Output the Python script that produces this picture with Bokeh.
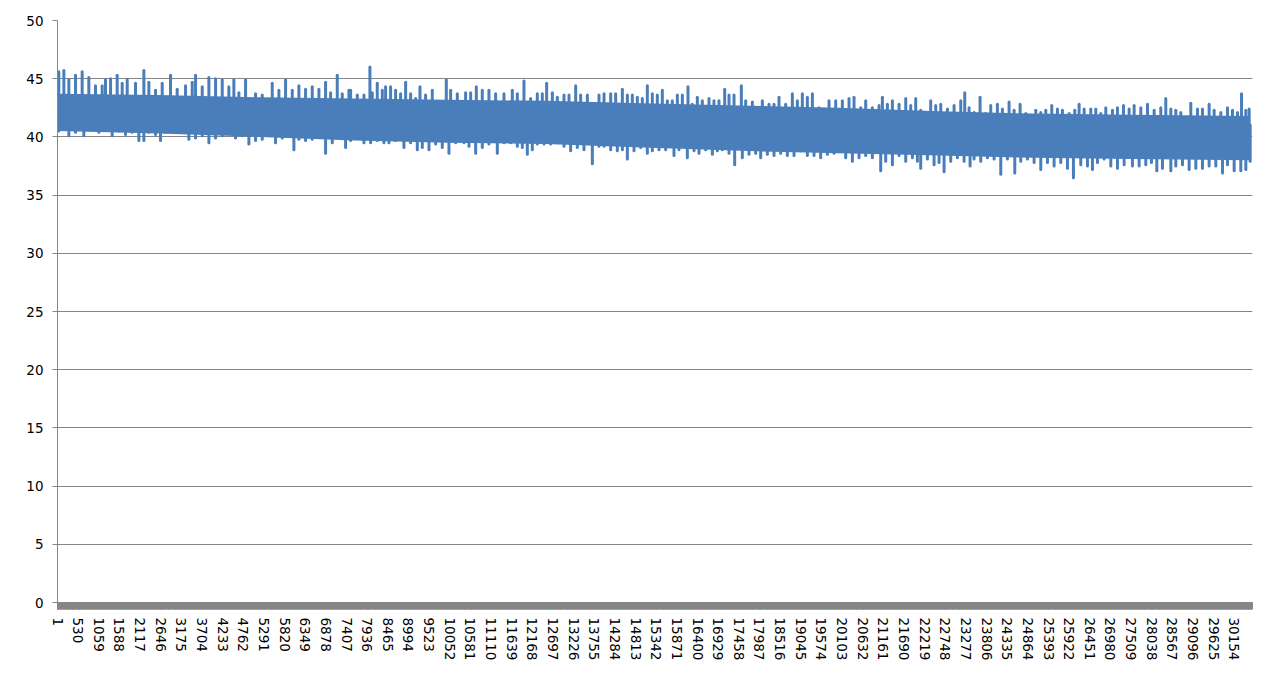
from bokeh.plotting import figure
from bokeh.models import Range1d, FixedTicker
from bokeh.embed import file_html
from bokeh.resources import INLINE

# ---- data ----
tick_labels = ["1", "530", "1059", "1588", "2117", "2646", "3175", "3704", "4233", "4762",
               "5291", "5820", "6349", "6878", "7407", "7936", "8465", "8994", "9523", "10052",
               "10581", "11110", "11639", "12168", "12697", "13226", "13755", "14284", "14813",
               "15342", "15871", "16400", "16929", "17458", "17987", "18516", "19045", "19574",
               "20103", "20632", "21161", "21690", "22219", "22748", "23277", "23806", "24335",
               "24864", "25393", "25922", "26451", "26980", "27509", "28038", "28567", "29096",
               "29625", "30154"]
n_points = 30620

y_ticks = [0, 5, 10, 15, 20, 25, 30, 35, 40, 45, 50]

# local maxima of the series (category index, value)
top_x = [35, 164, 292, 463, 633, 804, 975, 1146, 1231, 1360, 1530, 1659, 1787, 2000, 2214, 2342, 2513,
         2684, 2897, 3068, 3282, 3453, 3538, 3709, 3880, 4051, 4222, 4392, 4520, 4649, 4820, 5076,
         5247, 5503, 5674, 5845, 6016, 6186, 6357, 6528, 6699, 6870, 6998, 7169, 7297, 7468,
         7511, 7682, 7853, 8006, 8066, 8194, 8323, 8408, 8536, 8664, 8792, 8921, 9049, 9177, 9288,
         9433, 9604, 9818, 9963, 10074, 10245, 10458, 10587, 10732, 10885, 11056, 11227, 11441,
         11654, 11783, 11953, 12124, 12295, 12423, 12534, 12680, 12808, 12979, 13107, 13278, 13406,
         13577, 13747, 13876, 14004, 14175, 14303, 14474, 14602, 14730, 14858, 14986, 15114,
         15242, 15370, 15498, 15626, 15754, 15883, 16011, 16156, 16267, 16395, 16523, 16694, 16822,
         16950, 17096, 17207, 17335, 17523, 17634, 17805, 17933, 18061, 18232, 18360, 18488, 18659,
         18830, 18958, 19086, 19214, 19343, 19513, 19641, 19770, 19941, 20111, 20282, 20410, 20581,
         20709, 20880, 21051, 21137, 21265, 21393, 21564, 21735, 21863, 21991, 22119, 22247, 22375,
         22503, 22632,
         22803, 22974, 23145, 23247, 23358, 23486, 23640, 23785, 23913, 24084, 24212, 24383, 24511,
         24665, 24810, 24939, 25067, 25195, 25323, 25477, 25622, 25750, 25921, 26066, 26177, 26306,
         26476, 26604, 26733, 26861, 27032, 27160, 27314, 27459, 27587, 27758, 27929, 28100, 28270,
         28398, 28527, 28655, 28783, 28911, 29039, 29210, 29338, 29509, 29637, 29808, 29979, 30107,
         30236, 30339, 30449, 30534]
top_y = [45.6, 45.7, 44.9, 45.3, 45.6, 45.1, 44.4, 44.4, 44.9, 45.0, 45.3, 44.6, 44.9, 44.6, 45.7, 44.7, 44.0,
         44.6, 45.3, 44.1, 44.4, 44.7, 45.3, 44.3, 45.1, 45.0, 44.9, 44.3, 44.9, 43.8, 44.9, 43.7,
         43.6, 44.6, 44.0, 44.9, 44.0, 44.4, 44.1, 44.3, 44.1, 44.7, 43.8, 45.3, 43.7, 44.0,
         44.0, 43.6, 43.6, 46.0, 43.8, 44.6, 44.0, 44.3, 44.3, 44.0, 43.7, 44.7, 43.7, 43.3, 44.3,
         43.6, 44.0, 43.0, 44.9, 44.0, 43.7, 43.8, 43.8, 44.3, 44.0, 44.0, 43.7, 43.7,
         44.0, 43.7, 44.8, 43.3, 43.7, 43.7, 44.6, 43.8, 43.4, 43.6, 43.6, 44.4, 43.6,
         43.6, 42.5, 43.6, 43.7, 43.7, 43.7, 44.1, 43.6, 43.6, 43.4, 43.3, 44.4,
         43.7, 43.6, 44.0, 43.1, 43.1, 43.6, 43.6, 44.3, 42.8, 43.4, 43.1, 43.3, 43.1,
         43.1, 44.1, 43.6, 43.6, 44.4, 43.1, 43.0, 42.5, 43.1, 42.8, 42.8, 43.4, 42.8,
         43.7, 43.1, 43.7, 43.4, 43.7, 42.5, 42.4, 43.1, 43.1, 43.1, 43.3, 43.4, 42.5,
         43.1, 42.5, 42.7, 43.4, 42.8, 43.1, 42.8, 43.3, 42.7, 43.3, 42.3, 42.1, 43.1,
         42.7, 42.8,
         42.4, 42.7, 43.1, 43.8, 42.5, 42.1, 43.4, 42.0, 42.7, 42.8, 42.4, 43.0, 42.3,
         42.8, 42.0, 41.7, 42.3, 42.1, 42.3, 42.7, 42.4, 42.3, 42.0, 42.3, 42.8, 42.4,
         42.4, 42.4, 42.0, 42.5, 42.3, 42.5, 42.7, 42.4, 42.7, 42.5, 42.8, 42.3, 42.5,
         43.3, 42.4, 42.3, 42.1, 41.7, 42.9, 42.4, 42.4, 42.8, 42.3, 42.1, 42.5, 42.3,
         42.1, 43.7, 42.3, 42.4]

# local minima of the series (category index, value)
low_x = [35, 292, 463, 676, 804, 1061, 1231, 1402, 1573, 1744, 1915, 2086, 2214, 2342, 2513, 2641, 2769,
         2940, 3154, 3367, 3538, 3709, 3880, 4051, 4222, 4392, 4563, 4734, 4905, 5076, 5247, 5418,
         5588, 5759, 5930, 6058, 6186, 6357, 6528, 6699, 6870, 7041, 7212, 7383,
         7511, 7682, 7853, 8024, 8194, 8365, 8493, 8664, 8878, 9049, 9220, 9348, 9519, 9690, 9860,
         10031, 10202, 10416, 10544, 10715, 10885, 11056, 11270, 11441, 11612, 11783, 11911, 12039,
         12167, 12295, 12466, 12637, 12808, 12979, 13149, 13320, 13491, 13705, 13876, 14004, 14175,
         14345, 14474, 14602, 14773, 14943, 15114,
         15242, 15413, 15584, 15797, 15925, 16139, 16310, 16438, 16609, 16780, 16908, 17036, 17207,
         17352, 17548, 17719, 17890, 18018, 18189, 18360, 18531, 18702, 18873, 19044, 19214, 19385,
         19556, 19727, 19898, 20026, 20197, 20368, 20539, 20709, 20880, 21094, 21222, 21393, 21564,
         21735, 21906, 22034, 22119, 22290, 22461, 22589, 22717,
         22888, 23059, 23230, 23384, 23486, 23657, 23828, 23999, 24170, 24341, 24529, 24682, 24853,
         25024, 25195, 25366, 25537, 25707, 25878, 26032, 26220, 26391, 26519, 26647, 26818, 26989,
         27160, 27331, 27544, 27715, 27886, 28031, 28168, 28313, 28527, 28655, 28826, 28997, 29168,
         29338, 29509, 29680, 29851, 29979, 30150, 30321, 30449, 30560]
low_y = [40.5, 40.1, 40.4, 40.1, 40.7, 40.4, 40.7, 40.1, 40.5, 40.2, 40.4, 39.7, 39.7, 40.4, 40.2, 39.7, 40.4,
         40.4, 40.4, 39.8, 39.9, 40.1, 39.5, 39.9, 40.1, 40.4, 39.9, 40.1, 39.4, 39.7, 39.8, 40.1,
         39.5, 39.9, 40.1, 38.9, 39.8, 39.7, 39.8, 40.1, 38.6, 39.5, 40.1, 39.1,
         39.7, 39.9, 39.5, 39.5, 39.7, 39.5, 39.5, 39.7, 39.1, 39.5, 38.9, 39.1, 38.9, 39.4, 39.1,
         38.6, 39.5, 39.5, 39.2, 38.6, 39.1, 39.4, 38.6, 39.5, 39.5, 39.2, 39.1, 38.5,
         38.9, 39.4, 39.4, 39.4, 39.5, 39.2, 38.8, 39.1, 38.9, 37.7, 39.2, 39.2, 38.9,
         38.8, 38.9, 38.1, 38.8, 39.1, 38.6,
         38.8, 38.9, 38.9, 38.4, 38.9, 38.2, 38.8, 38.6, 38.9, 38.5, 38.8, 38.9, 38.6,
         37.6, 38.2, 38.5, 38.6, 38.2, 38.5, 38.4, 38.6, 38.4, 38.4, 38.8, 38.4, 38.4,
         38.2, 38.5, 38.6, 38.8, 38.2, 37.9, 38.2, 38.4, 38.2, 37.1, 37.9, 37.6, 38.4,
         37.9, 38.2, 37.9, 37.3, 38.1, 37.6, 37.8, 37.0,
         37.9, 38.2, 37.9, 37.5, 38.1, 37.9, 38.2, 38.1, 36.8, 38.1, 36.9, 37.9, 38.1,
         37.8, 37.2, 37.8, 37.5, 37.8, 37.3, 36.5, 37.6, 37.5, 37.2, 37.8, 38.1, 37.5,
         37.3, 37.6, 37.5, 37.5, 37.6, 37.8, 37.1, 37.3, 37.1, 37.5, 37.6, 37.2, 37.3,
         37.3, 37.5, 37.5, 36.9, 37.6, 37.1, 37.1, 37.2, 37.9]

# range that the dense trace always covers
band_x = [1, 2600, 5200, 7600, 10000, 12500, 15000, 17500, 20000, 22600, 25000, 27500, 30560]
band_hi = [43.7, 43.6, 43.4, 43.3, 43.2, 43.1, 42.9, 42.7, 42.5, 42.2, 42.0, 41.9, 41.8]
band_lo = [40.5, 40.3, 40.0, 39.7, 39.5, 39.4, 39.1, 38.8, 38.6, 38.4, 38.2, 38.1, 38.0]
series_mid = 41.0

# ---- styling ----
BLUE = "#4a7ebb"
GRAY = "#868686"
FONT = "DejaVu Sans"

tick_pos = [int(s) for s in tick_labels]

p = figure(width=1270, height=675, output_backend="svg", toolbar_location=None,
           x_range=Range1d(1, n_points), y_range=Range1d(0, 50),
           min_border_left=57, min_border_right=18, min_border_top=20, min_border_bottom=73)
p.outline_line_color = None
p.background_fill_color = "white"
p.border_fill_color = "white"

# solid core of the dense trace
p.varea(x=band_x, y1=band_lo, y2=band_hi, fill_color=BLUE, fill_alpha=1.0)
# excursions of the trace above and below the core
p.segment(x0=top_x, y0=[series_mid] * len(top_x), x1=top_x, y1=top_y,
          line_color=BLUE, line_width=3, line_cap="round")
p.segment(x0=low_x, y0=[series_mid] * len(low_x), x1=low_x, y1=low_y,
          line_color=BLUE, line_width=3, line_cap="round")

# x axis (category axis with dense tick marks)
xa = p.xaxis[0]
xa.ticker = FixedTicker(ticks=tick_pos, minor_ticks=list(range(1, n_points, 12)))
xa.major_label_overrides = {t: s for t, s in zip(tick_pos, tick_labels)}
xa.major_label_orientation = "vertical"
xa.axis_line_color = GRAY
xa.major_tick_line_color = GRAY
xa.minor_tick_line_color = GRAY
xa.major_tick_in = 0
xa.major_tick_out = 7
xa.minor_tick_in = 0
xa.minor_tick_out = 7
xa.major_label_standoff = 8
xa.major_label_text_font = FONT
xa.major_label_text_font_size = "13.5px"
xa.major_label_text_color = "black"

ya = p.yaxis[0]
ya.ticker = FixedTicker(ticks=y_ticks)
ya.axis_line_color = GRAY
ya.major_tick_line_color = GRAY
ya.minor_tick_line_color = None
ya.major_tick_in = 0
ya.major_tick_out = 5
ya.major_label_standoff = 9
ya.major_label_text_font = FONT
ya.major_label_text_font_size = "13.5px"
ya.major_label_text_color = "black"

p.xgrid.grid_line_color = None
p.ygrid.grid_line_color = GRAY
p.ygrid.grid_line_width = 1
p.ygrid.ticker = FixedTicker(ticks=y_ticks)

open("out.html", "w").write(file_html(p, INLINE))
